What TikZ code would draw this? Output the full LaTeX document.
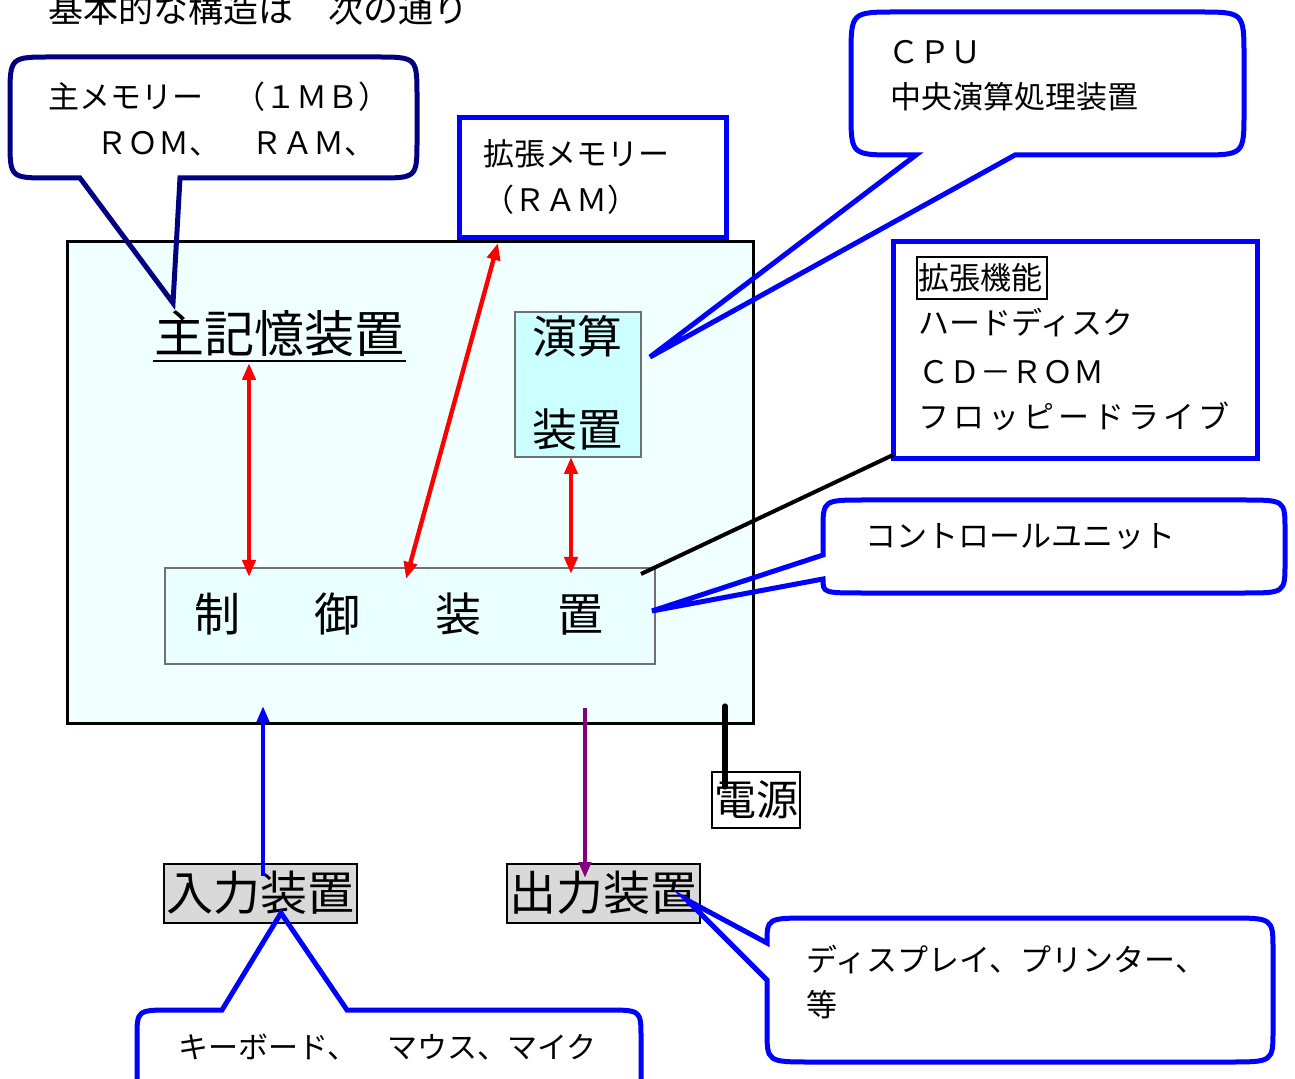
\documentclass[tikz,border=0pt]{standalone}
\usepackage{fontspec}
\setmainfont{Noto Sans CJK JP}
\usetikzlibrary{arrows.meta}
\definecolor{navyc}{HTML}{000080}
\definecolor{bluec}{HTML}{0000FF}
\definecolor{boxfill}{HTML}{F0FFFF}
\definecolor{alufill}{HTML}{CCFFFF}
\definecolor{ctlfill}{HTML}{EAFFFF}
\definecolor{grayfill}{HTML}{D9D9D9}
\definecolor{inbord}{HTML}{707070}
\definecolor{purp}{HTML}{800080}
\tikzset{
  txt/.style={inner sep=0pt, anchor=west, text height=1.08em, text depth=0em,
    font=\fontsize{15.5pt}{18pt}\selectfont},
  ctxt/.style={inner sep=0pt, anchor=center, text height=1.08em, text depth=0em},
  callout/.style={line width=2.5pt, line join=miter, draw=bluec},
  bluebox/.style={draw=bluec, line width=2.5pt, inner sep=0pt},
  redarrow/.style={draw=red, line width=2.2pt, {Triangle[length=8.5pt,width=6.5pt]}-{Triangle[length=8.5pt,width=6.5pt]}},
  devbox/.style={draw=black, line width=1pt, fill=grayfill, inner sep=0pt,
    minimum width=96.5pt, minimum height=29.5pt},
}
\begin{document}
\begin{tikzpicture}[x=0.5pt,y=-0.5pt]
\clip (0,0) rectangle (1295,1079);
\fill[white] (0,0) rectangle (1295,1079);

% title
\node[txt, font=\fontsize{17.5pt}{20pt}\selectfont] (title) at (48,12) {基本的な構造は　次の通り};

% main box
\node[draw=black, line width=1.5pt, fill=boxfill, minimum width=343pt, minimum height=240.5pt, inner sep=0pt] (main) at (410,482.5) {};

% arithmetic unit
\node[draw=inbord, line width=0.8pt, fill=alufill, minimum width=63pt, minimum height=72.5pt, inner sep=0pt] (alu) at (578,384.5) {};
\node[ctxt, font=\fontsize{22.5pt}{24pt}\selectfont] (alu1) at (577,343) {演算};
\node[ctxt, font=\fontsize{22.5pt}{24pt}\selectfont] (alu2) at (577,436) {装置};

% control unit
\node[draw=inbord, line width=0.8pt, fill=ctlfill, minimum width=245pt, minimum height=48pt, inner sep=0pt] (ctl) at (410,616) {};
\node[ctxt, font=\fontsize{23pt}{24pt}\selectfont] (c1) at (217,621) {制};
\node[ctxt, font=\fontsize{23pt}{24pt}\selectfont] (c2) at (337,621) {御};
\node[ctxt, font=\fontsize{23pt}{24pt}\selectfont] (c3) at (458,621) {装};
\node[ctxt, font=\fontsize{23pt}{24pt}\selectfont] (c4) at (580,621) {置};

% main memory label
\node[ctxt, font=\fontsize{25pt}{27pt}\selectfont] (mem) at (279,342) {主記憶装置};
\draw[line width=1.2pt] (153,361) -- (406,361);

% expansion memory box
\node[bluebox, minimum width=133.5pt, minimum height=60pt] (xmem) at (592.5,178) {};
\node[txt] (xmem1) at (483,155) {拡張メモリー};
\node[txt] (xmem2) at (483,201) {（ＲＡＭ）};

% expansion features box
\node[bluebox, minimum width=182pt, minimum height=108.5pt] (kinou) at (1075,350.5) {};
\node[draw=black, line width=0.8pt, inner sep=0pt, minimum width=65pt, minimum height=21pt] (kinoubox) at (982,278) {};
\node[txt] (k0) at (918,279) {拡張機能};
\node[txt] (k1) at (918,324) {ハードディスク};
\node[txt] (k2) at (918,373) {ＣＤ－ＲＯＭ};
\node[txt] (k3) at (918,418) {フ\kern2pt ロ\kern2pt ッ\kern2pt ピ\kern2pt ー\kern2pt ド\kern2pt ラ\kern2pt イ\kern2pt ブ};

% devices
\node[devbox] (inp) at (260.5,893.5) {};
\node[ctxt, font=\fontsize{23.5pt}{25pt}\selectfont] (inpt) at (260,900) {入力装置};
\node[devbox] (outp) at (603.5,893.5) {};
\node[ctxt, font=\fontsize{23.5pt}{25pt}\selectfont] (outpt) at (603,900) {出力装置};
\node[draw=black, line width=1pt, fill=white, inner sep=0pt, minimum width=44pt, minimum height=28pt] (pwr) at (756,800) {};
\node[ctxt, font=\fontsize{21pt}{23pt}\selectfont] (pwrt) at (756,805) {電源};

% coordinates
\coordinate (r1a) at (249,363);
\coordinate (r1b) at (249,577);
\coordinate (r2a) at (571,457);
\coordinate (r2b) at (571,574);
\coordinate (r3a) at (498,243);
\coordinate (r3b) at (406,579);
\coordinate (ina) at (263,876);
\coordinate (inb) at (263,706);
\coordinate (outa) at (585,708);
\coordinate (outb) at (585,878);
\coordinate (pwra) at (725,706);
\coordinate (pwrb) at (725,787);
\coordinate (kla) at (893,455);
\coordinate (klb) at (641,574);

% arrows
\draw[redarrow] (r1a) -- (r1b);
\draw[redarrow] (r2a) -- (r2b);
\draw[redarrow] (r3a) -- (r3b);
\draw[draw=bluec, line width=2.2pt, -{Triangle[length=8pt,width=6pt]}] (ina) -- (inb);
\draw[draw=purp, line width=2.2pt, -{Triangle[length=8pt,width=6pt]}] (outa) -- (outb);
\draw[line width=2.6pt, line cap=round] (pwra) -- (pwrb);
\draw[line width=2pt] (kla) -- (klb);

% callout tips
\coordinate (mmtip) at (173,303);
\coordinate (cputip) at (650,357);
\coordinate (cutip) at (652,611);
\coordinate (outtip) at (687,900);
\coordinate (kbtip) at (281,913);

% main memory callout
\draw[callout, draw=navyc] (80,178) -- (50,178) .. controls (10,178) .. (10,140) -- (10,97)
  .. controls (10,57) .. (52,57) -- (375,57) .. controls (417,57) .. (417,97) -- (417,140)
  .. controls (417,178) .. (377,178) -- (180,178) -- (mmtip) -- cycle;
\node[txt] (mm1) at (48,98) {主メモリー　（１ＭＢ）};
\node[txt] (mm2) at (96,144) {ＲＯＭ、　ＲＡＭ、};

% CPU callout
\draw[callout] (916,155) -- (897,155) .. controls (851,155) .. (851,112) -- (851,57)
  .. controls (851,12) .. (897,12) -- (1198,12) .. controls (1244,12) .. (1244,57) -- (1244,112)
  .. controls (1244,155) .. (1198,155) -- (1015,155) -- (cputip) -- cycle;
\node[txt] (cpu1) at (888,53) {ＣＰＵ};
\node[txt] (cpu2) at (890,98) {中央演算処理装置};

% control unit callout
\draw[callout] (823,555) -- (823,530) .. controls (823,500) .. (865,500) -- (1243,500)
  .. controls (1285,500) .. (1285,530) -- (1285,563) .. controls (1285,593) .. (1243,593)
  -- (865,593) .. controls (823,593) .. (823,579) -- (cutip) -- cycle;
\node[txt] (cu1) at (865,537) {コントロールユニット};

% output callout
\draw[callout] (767,980) -- (767,1030) .. controls (767,1062) .. (812,1062) -- (1228,1062)
  .. controls (1273,1062) .. (1273,1030) -- (1273,950) .. controls (1273,918) .. (1228,918)
  -- (812,918) .. controls (767,918) .. (767,943) -- (outtip) -- cycle;
\node[txt] (o1) at (806,961) {ディスプレイ、プリンター、};
\node[txt] (o2) at (806,1006) {等};

% keyboard callout
\draw[callout] (222,1010) -- (172,1010) .. controls (137,1010) .. (137,1038) -- (137,1080)
  .. controls (137,1108) .. (172,1108) -- (606,1108) .. controls (641,1108) .. (641,1080)
  -- (641,1038) .. controls (641,1010) .. (606,1010) -- (347,1010) -- (kbtip) -- cycle;
\node[txt, font=\fontsize{15pt}{18pt}\selectfont] (kb1) at (178,1048) {キーボード、　マウス、マイク};
\end{tikzpicture}
\end{document}
